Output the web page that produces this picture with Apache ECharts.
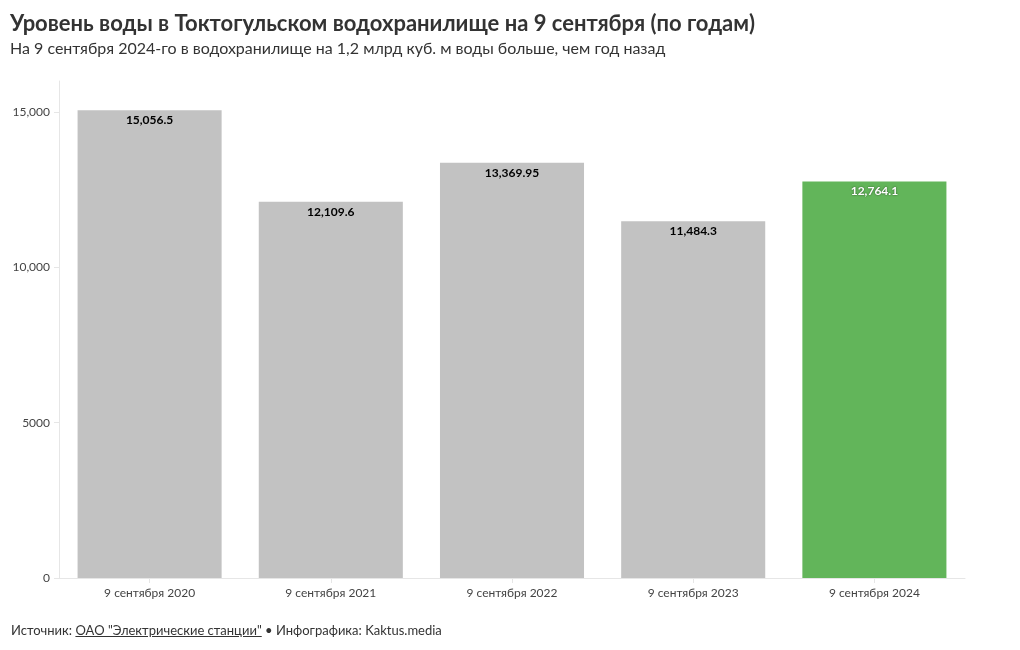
<!DOCTYPE html>
<html><head><meta charset="utf-8">
<script src="https://cdn.jsdelivr.net/npm/echarts@6/dist/echarts.min.js"></script>
<style>
html,body{margin:0;padding:0;background:#fff;}
#c{width:1020px;height:650px;}
#foot{position:absolute;left:11px;top:622px;font-family:Lato,'Noto Sans',sans-serif;font-size:13px;color:#333;}
#foot a{color:#333;text-decoration:underline;}
</style></head>
<body>
<div id="c"></div>
<div id="foot">Источник: <a>ОАО "Электрические станции"</a> • Инфографика: Kaktus.media</div>
<script>
const categories = ['9 сентября 2020','9 сентября 2021','9 сентября 2022','9 сентября 2023','9 сентября 2024'];
const values = [15056.5, 12109.6, 13369.95, 11484.3, 12764.1];
const labels = ['15,056.5','12,109.6','13,369.95','11,484.3','12,764.1'];
const highlightIndex = 4;
const FONT = "Lato, 'Noto Sans', sans-serif";

const chart = echarts.init(document.getElementById('c'));
chart.setOption({
  animation:false,
  textStyle:{fontFamily:FONT},
  title:{
    text:'Уровень воды в Токтогульском водохранилище на 9 сентября (по годам)',
    subtext:'На 9 сентября 2024-го в водохранилище на 1,2 млрд куб. м воды больше, чем год назад',
    left:5, top:8, itemGap:6,
    textStyle:{fontFamily:FONT,fontSize:22,fontWeight:'bold',color:'#333'},
    subtextStyle:{fontFamily:FONT,fontSize:16,color:'#333'}
  },
  grid:{left:59,right:55,top:81,bottom:72},
  xAxis:{
    type:'category', data:categories,
    axisLine:{lineStyle:{color:'#e6e6e6'}},
    axisTick:{show:true,alignWithLabel:true,length:5,lineStyle:{color:'#e6e6e6'}},
    axisLabel:{color:'#444',fontSize:12,margin:9,fontFamily:FONT}
  },
  yAxis:{
    type:'value', min:0, max:16000, interval:5000,
    axisLine:{show:true,lineStyle:{color:'#e6e6e6'}},
    axisTick:{show:true,length:5,lineStyle:{color:'#e6e6e6'}},
    splitLine:{show:false},
    axisLabel:{color:'#444',fontSize:12,margin:9,fontFamily:FONT,showMaxLabel:false,
      formatter:v=> v>=10000 ? v.toLocaleString('en-US') : String(v)}
  },
  series:[{
    type:'bar',
    barCategoryGap:'20.5%',
    data: values.map((v,i)=>({
      value:v,
      itemStyle:{color: i===highlightIndex ? '#62b55a' : '#c2c2c2'},
      label:{
        show:true, position:'insideTop', distance:4,
        formatter: labels[i],
        color: i===highlightIndex ? '#fff' : '#000',
        fontSize:12, fontWeight:'bold', fontFamily:FONT,
        textShadowColor: i===highlightIndex ? 'rgba(0,0,0,0.6)' : 'transparent',
        textShadowBlur: i===highlightIndex ? 2 : 0
      }
    }))
  }]
});
</script>
</body></html>
